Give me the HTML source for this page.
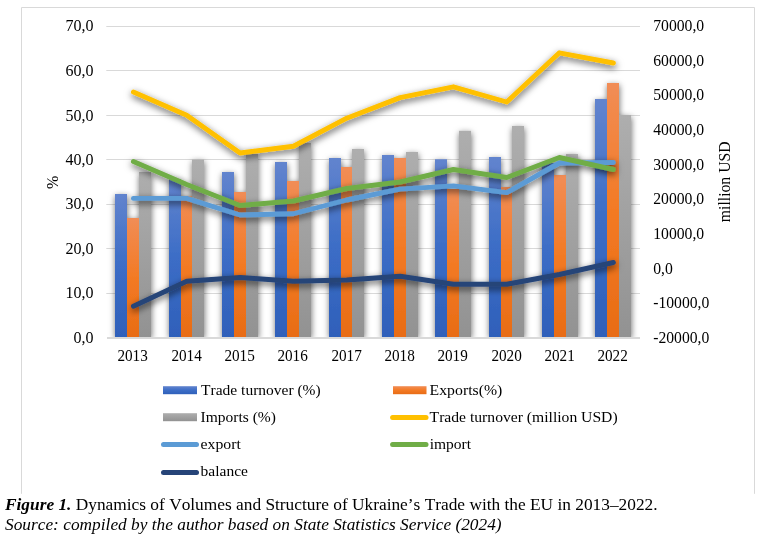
<!DOCTYPE html>
<html lang="en"><head><meta charset="utf-8"><title>Figure 1</title>
<style>
html,body{margin:0;padding:0;background:#fff;}
body{width:760px;height:541px;overflow:hidden;position:relative;font-family:"Liberation Serif","Times New Roman",serif;color:#000;}
svg{position:absolute;left:0;top:0;}
svg text{font-family:"Liberation Serif","Times New Roman",serif;fill:#000;font-kerning:none;}
.cap{position:absolute;left:5px;white-space:nowrap;font-size:17.3px;line-height:20px;font-kerning:none;}
</style></head><body>
<svg width="760" height="541" viewBox="0 0 760 541">
<defs>
<linearGradient id="gb" x1="0" y1="0" x2="0" y2="1"><stop offset="0" stop-color="#6284ce"/><stop offset="0.5" stop-color="#3c6dc6"/><stop offset="1" stop-color="#2f60ba"/></linearGradient>
<linearGradient id="go" x1="0" y1="0" x2="0" y2="1"><stop offset="0" stop-color="#f18d56"/><stop offset="0.5" stop-color="#f37a24"/><stop offset="1" stop-color="#e86c15"/></linearGradient>
<linearGradient id="gg" x1="0" y1="0" x2="0" y2="1"><stop offset="0" stop-color="#aeaeae"/><stop offset="0.5" stop-color="#a0a0a0"/><stop offset="1" stop-color="#929292"/></linearGradient>
<filter id="sh" filterUnits="userSpaceOnUse" x="90" y="0" width="570" height="360"><feDropShadow dx="0.4" dy="2.0" stdDeviation="3.3" flood-color="#000" flood-opacity="0.58"/></filter>
<filter id="shl" filterUnits="userSpaceOnUse" x="90" y="0" width="570" height="360"><feDropShadow dx="0.5" dy="2.7" stdDeviation="3.7" flood-color="#000" flood-opacity="0.68"/></filter>
<clipPath id="plot"><rect x="100" y="8" width="545" height="329"/></clipPath>
</defs>
<rect x="0" y="0" width="760" height="541" fill="#fff"/>
<polyline points="21.5,493.8 21.5,7.5 754.5,7.5 754.5,493.8" fill="none" stroke="#d9d9d9" stroke-width="1"/>

<g stroke="#d9d9d9" stroke-width="1">
<line x1="106.3" x2="640" y1="26.5" y2="26.5"/>
<line x1="106.3" x2="640" y1="70.5" y2="70.5"/>
<line x1="106.3" x2="640" y1="115.5" y2="115.5"/>
<line x1="106.3" x2="640" y1="159.5" y2="159.5"/>
<line x1="106.3" x2="640" y1="204.5" y2="204.5"/>
<line x1="106.3" x2="640" y1="248.5" y2="248.5"/>
<line x1="106.3" x2="640" y1="293.5" y2="293.5"/>
</g>
<g clip-path="url(#plot)">
<g filter="url(#sh)">
<rect x="115" y="194.00" width="12" height="143.00" fill="url(#gb)"/>
<rect x="169" y="179.00" width="12" height="158.00" fill="url(#gb)"/>
<rect x="222" y="172.00" width="12" height="165.00" fill="url(#gb)"/>
<rect x="275" y="162.00" width="12" height="175.00" fill="url(#gb)"/>
<rect x="329" y="158.00" width="12" height="179.00" fill="url(#gb)"/>
<rect x="382" y="155.00" width="12" height="182.00" fill="url(#gb)"/>
<rect x="435" y="159.25" width="12" height="177.75" fill="url(#gb)"/>
<rect x="489" y="157.00" width="12" height="180.00" fill="url(#gb)"/>
<rect x="542" y="163.00" width="12" height="174.00" fill="url(#gb)"/>
<rect x="595" y="99.00" width="12" height="238.00" fill="url(#gb)"/>
<rect x="127" y="218.00" width="12" height="119.00" fill="url(#go)"/>
<rect x="181" y="196.20" width="11" height="140.80" fill="url(#go)"/>
<rect x="234" y="192.00" width="12" height="145.00" fill="url(#go)"/>
<rect x="287" y="181.00" width="12" height="156.00" fill="url(#go)"/>
<rect x="341" y="167.00" width="11" height="170.00" fill="url(#go)"/>
<rect x="394" y="158.00" width="12" height="179.00" fill="url(#go)"/>
<rect x="447" y="189.00" width="12" height="148.00" fill="url(#go)"/>
<rect x="501" y="187.00" width="11" height="150.00" fill="url(#go)"/>
<rect x="554" y="175.00" width="12" height="162.00" fill="url(#go)"/>
<rect x="607" y="83.00" width="12" height="254.00" fill="url(#go)"/>
<rect x="139" y="172.00" width="12" height="165.00" fill="url(#gg)"/>
<rect x="192" y="159.50" width="12" height="177.50" fill="url(#gg)"/>
<rect x="246" y="153.75" width="12" height="183.25" fill="url(#gg)"/>
<rect x="299" y="143.00" width="12" height="194.00" fill="url(#gg)"/>
<rect x="352" y="149.00" width="12" height="188.00" fill="url(#gg)"/>
<rect x="406" y="152.00" width="12" height="185.00" fill="url(#gg)"/>
<rect x="459" y="130.75" width="12" height="206.25" fill="url(#gg)"/>
<rect x="512" y="126.00" width="12" height="211.00" fill="url(#gg)"/>
<rect x="566" y="154.00" width="12" height="183.00" fill="url(#gg)"/>
<rect x="619" y="115.00" width="12" height="222.00" fill="url(#gg)"/>
</g>
</g>
<rect x="107" y="337" width="533" height="2" fill="#d9d9d9"/>
<g filter="url(#shl)">
<polyline points="133.40,92.10 186.73,115.30 240.07,153.00 293.40,146.25 346.73,118.20 400.06,97.60 453.40,86.80 506.73,102.00 559.36,52.80 613.40,63.00" fill="none" stroke="#ffc000" stroke-width="4.9" stroke-linecap="round" stroke-linejoin="round"/>
<polyline points="133.40,198.40 186.73,198.40 240.07,215.00 293.40,213.75 346.73,200.00 400.06,189.10 453.40,185.90 506.73,192.60 559.36,163.00 613.40,162.50" fill="none" stroke="#5b9bd5" stroke-width="4.9" stroke-linecap="round" stroke-linejoin="round"/>
<polyline points="133.40,161.50 186.73,184.50 240.07,205.50 293.40,201.00 346.73,188.50 400.06,182.00 453.40,169.50 506.73,177.50 559.36,157.50 613.40,169.50" fill="none" stroke="#70ad47" stroke-width="4.9" stroke-linecap="round" stroke-linejoin="round"/>
<polyline points="133.40,306.25 186.73,281.25 240.07,277.50 293.40,281.25 346.73,280.00 400.06,276.25 453.40,284.25 506.73,284.25 559.36,274.50 613.40,262.50" fill="none" stroke="#264478" stroke-width="4.9" stroke-linecap="round" stroke-linejoin="round"/>
</g>
<g font-size="16" text-anchor="end">
<text x="93.6" y="31.20">70,0</text>
<text x="93.6" y="75.90">60,0</text>
<text x="93.6" y="120.70">50,0</text>
<text x="93.6" y="165.20">40,0</text>
<text x="93.6" y="209.20">30,0</text>
<text x="93.6" y="253.80">20,0</text>
<text x="93.6" y="298.40">10,0</text>
<text x="93.6" y="342.70">0,0</text>
</g>
<g font-size="16">
<text x="653.2" y="31.20" textLength="51" lengthAdjust="spacingAndGlyphs">70000,0</text>
<text x="653.2" y="65.82" textLength="51" lengthAdjust="spacingAndGlyphs">60000,0</text>
<text x="653.2" y="100.44" textLength="51" lengthAdjust="spacingAndGlyphs">50000,0</text>
<text x="653.2" y="135.06" textLength="51" lengthAdjust="spacingAndGlyphs">40000,0</text>
<text x="653.2" y="169.68" textLength="51" lengthAdjust="spacingAndGlyphs">30000,0</text>
<text x="653.2" y="204.30" textLength="51" lengthAdjust="spacingAndGlyphs">20000,0</text>
<text x="653.2" y="238.92" textLength="51" lengthAdjust="spacingAndGlyphs">10000,0</text>
<text x="653.2" y="273.54" textLength="19.6" lengthAdjust="spacingAndGlyphs">0,0</text>
<text x="653.2" y="308.16" textLength="56.1" lengthAdjust="spacingAndGlyphs">-10000,0</text>
<text x="653.2" y="342.78" textLength="56.1" lengthAdjust="spacingAndGlyphs">-20000,0</text>
</g>
<g font-size="16" text-anchor="middle">
<text x="132.60" y="361.4" textLength="30.4" lengthAdjust="spacingAndGlyphs">2013</text>
<text x="186.60" y="361.4" textLength="30.4" lengthAdjust="spacingAndGlyphs">2014</text>
<text x="239.60" y="361.4" textLength="30.4" lengthAdjust="spacingAndGlyphs">2015</text>
<text x="292.60" y="361.4" textLength="30.4" lengthAdjust="spacingAndGlyphs">2016</text>
<text x="346.60" y="361.4" textLength="30.4" lengthAdjust="spacingAndGlyphs">2017</text>
<text x="399.60" y="361.4" textLength="30.4" lengthAdjust="spacingAndGlyphs">2018</text>
<text x="452.60" y="361.4" textLength="30.4" lengthAdjust="spacingAndGlyphs">2019</text>
<text x="506.60" y="361.4" textLength="30.4" lengthAdjust="spacingAndGlyphs">2020</text>
<text x="559.60" y="361.4" textLength="30.4" lengthAdjust="spacingAndGlyphs">2021</text>
<text x="612.60" y="361.4" textLength="30.4" lengthAdjust="spacingAndGlyphs">2022</text>
</g>
<text font-size="16" text-anchor="middle" transform="translate(57.5 182.3) rotate(-90)">%</text>
<text font-size="16" text-anchor="middle" transform="translate(730.3 181.8) rotate(-90)" textLength="80.8" lengthAdjust="spacingAndGlyphs">million USD</text>
<rect x="163" y="386.2" width="34" height="8" fill="url(#gb)"/>
<rect x="393" y="386.2" width="33.5" height="8" fill="url(#go)"/>
<rect x="163" y="413.2" width="34" height="8" fill="url(#gg)"/>
<line x1="392.6" x2="426" y1="417.6" y2="417.6" stroke="#ffc000" stroke-width="5" stroke-linecap="round"/>
<line x1="163.5" x2="196.5" y1="444.5" y2="444.5" stroke="#5b9bd5" stroke-width="5" stroke-linecap="round"/>
<line x1="392.6" x2="426" y1="444.5" y2="444.5" stroke="#70ad47" stroke-width="5" stroke-linecap="round"/>
<line x1="163.5" x2="196.5" y1="472.5" y2="472.5" stroke="#264478" stroke-width="5" stroke-linecap="round"/>
<g font-size="15.6">
<text x="201.1" y="395" textLength="119.6" lengthAdjust="spacingAndGlyphs">Trade turnover (%)</text>
<text x="429.6" y="395" textLength="72.7" lengthAdjust="spacingAndGlyphs">Exports(%)</text>
<text x="200.5" y="422" textLength="75.4" lengthAdjust="spacingAndGlyphs">Imports (%)</text>
<text x="429.6" y="421.8" textLength="188" lengthAdjust="spacingAndGlyphs">Trade turnover (million USD)</text>
<text x="200.6" y="449.3" textLength="40.3" lengthAdjust="spacingAndGlyphs">export</text>
<text x="429.7" y="449.2" textLength="41.4" lengthAdjust="spacingAndGlyphs">import</text>
<text x="200.6" y="476.2" textLength="47.4" lengthAdjust="spacingAndGlyphs">balance</text>
</g>
</svg>
<div class="cap" style="top:494.5px;font-size:17.33px"><b><i>Figure 1.</i></b> Dynamics of Volumes and Structure of Ukraine’s Trade with the EU in 2013–2022.</div>
<div class="cap" style="top:514.9px;font-size:17.33px"><i>Source: compiled by the author based on State Statistics Service (2024)</i></div>
</body></html>
